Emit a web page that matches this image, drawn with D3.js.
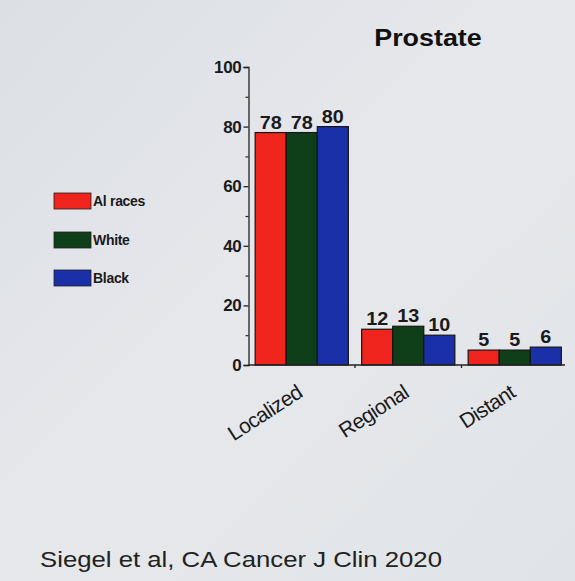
<!DOCTYPE html>
<html><head><meta charset="utf-8">
<script src="https://cdn.jsdelivr.net/npm/d3@7"></script>
<style>html,body{margin:0;padding:0;background:#e3e6ea;}svg{display:block;}</style>
</head><body>
<script>
const categories = ["Localized", "Regional", "Distant"];
const seriesNames = ["Al races", "White", "Black"];
const allRaces = [78, 12, 5];
const white = [78, 13, 5];
const black = [80, 10, 6];
const yTicks = [0, 20, 40, 60, 80, 100];
const colors = ["#ee241d", "#0e3f18", "#1a30a8"];
const seriesValues = [allRaces, white, black];

const FONT = "'Liberation Sans', Arial, Helvetica, sans-serif";
const W = 575, H = 581;
const svg = d3.select("body").append("svg").attr("width", W).attr("height", H);
const defs = svg.append("defs");
const grad = defs.append("linearGradient").attr("id","bg").attr("x1","0").attr("x2","1").attr("y1","0").attr("y2","1");
grad.append("stop").attr("offset","0").attr("stop-color","#dcdfe4");
grad.append("stop").attr("offset","0.5").attr("stop-color","#e6e8ec");
grad.append("stop").attr("offset","1").attr("stop-color","#e0e3e7");
svg.append("rect").attr("width", W).attr("height", H).attr("fill", "url(#bg)");

const x0 = 248.5, x1 = 568, yTop = 67, yBot = 365;
const x = d3.scaleBand().domain(categories).range([x0, x1]).paddingInner(0.125).paddingOuter(0.0625);
const xs = d3.scaleBand().domain(seriesNames).range([0, x.bandwidth()]);
const y = d3.scaleLinear().domain([0, 100]).range([yBot, yTop]);

// stretched text helper (the slide is slightly widened)
function stext(parent, px, py, sx, txt) {
  return parent.append("g").attr("transform", `translate(${px},${py}) scale(${sx},1)`)
    .append("text").attr("font-family", FONT).text(txt);
}

// title
stext(svg, 428, 46, 1.12, "Prostate").attr("text-anchor","middle")
  .attr("font-weight","bold").attr("font-size", 24).attr("fill","#111");

// bars
const data = [];
categories.forEach((c, i) => seriesNames.forEach((s, j) => data.push({c, s, j, v: seriesValues[j][i]})));
svg.append("g").selectAll("rect").data(data).join("rect")
  .attr("x", d => x(d.c) + xs(d.s))
  .attr("y", d => y(d.v))
  .attr("width", xs.bandwidth())
  .attr("height", d => y(0) - y(d.v))
  .attr("fill", d => colors[d.j])
  .attr("stroke", "#151515").attr("stroke-width", 1.2);

const vg = svg.append("g");
data.forEach(d => {
  stext(vg, x(d.c) + xs(d.s) + xs.bandwidth()/2, y(d.v) - 4, 1.1, d.v)
    .attr("text-anchor","middle").attr("font-weight","bold")
    .attr("font-size", 18).attr("fill","#1a1a1a");
});

// y axis
const yAxis = d3.axisLeft(y).tickValues(yTicks).tickSize(5).tickPadding(2).tickFormat(d3.format("d"));
const gy = svg.append("g").attr("transform", `translate(${x0},0)`).call(yAxis);
gy.select(".domain").attr("stroke","#222").attr("stroke-width",1.3);
gy.selectAll(".tick line").attr("stroke","#222").attr("stroke-width",1.3);
gy.selectAll(".tick text").attr("font-family", FONT)
  .attr("font-size", 17).attr("fill","#1a1a1a").attr("font-weight","bold").attr("letter-spacing","-0.3");
const minor = d3.axisLeft(y).tickValues(d3.range(10, 100, 20)).tickSize(3).tickFormat("");
const gm = svg.append("g").attr("transform", `translate(${x0},0)`).call(minor);
gm.select(".domain").remove();
gm.selectAll(".tick line").attr("stroke","#222").attr("stroke-width",1.2);

// x axis
const sepTicks = categories.slice(1).map(c => x(c) - x.step()*x.paddingInner()/2);
svg.append("line").attr("x1", x0).attr("x2", x1 - 3).attr("y1", yBot).attr("y2", yBot)
  .attr("stroke","#222").attr("stroke-width",1.3);
svg.append("g").selectAll("line").data(sepTicks).join("line")
  .attr("x1", d => d).attr("x2", d => d).attr("y1", yBot).attr("y2", yBot + 3)
  .attr("stroke","#222").attr("stroke-width",1.3);

svg.append("g").selectAll("text").data(categories).join("text")
  .attr("transform", c => `translate(${x(c) + x.bandwidth()/2 + 2},${yBot + 31}) rotate(-33)`)
  .attr("text-anchor","end")
  .attr("font-family", FONT)
  .attr("font-size", 21).attr("fill","#1a1a1a").attr("letter-spacing","-0.6")
  .text(c => c);

// legend
const lg = svg.append("g");
const ly = [193, 232, 270];
seriesNames.forEach((s, j) => {
  lg.append("rect").attr("x", 54).attr("y", ly[j]).attr("width", 37).attr("height", 16)
    .attr("fill", colors[j]).attr("stroke","#222").attr("stroke-width",0.8);
  lg.append("text").attr("x", 93).attr("y", ly[j] + 13)
    .attr("font-family", FONT).attr("font-weight","bold")
    .attr("font-size", 14).attr("fill","#1a1a1a").attr("letter-spacing","-0.3").text(s);
});

// citation
stext(svg, 40, 567, 1.17, "Siegel et al, CA Cancer J Clin 2020")
  .attr("font-size", 22).attr("fill","#222");
</script>
</body></html>
